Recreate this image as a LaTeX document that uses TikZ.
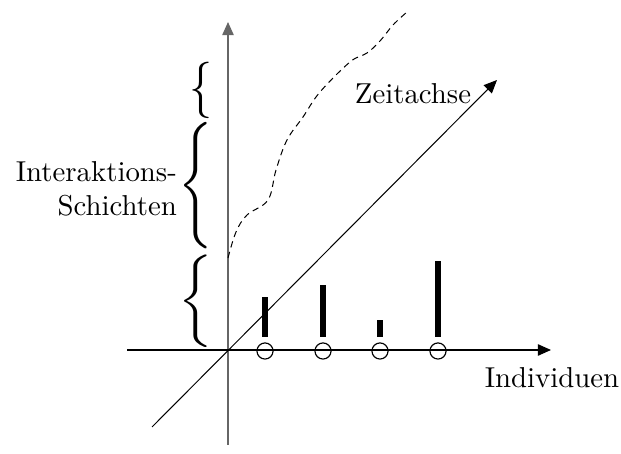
\documentclass[tikz,border=0pt]{standalone}
\usetikzlibrary{arrows.meta}

\begin{document}
\begin{tikzpicture}[x=0.0122cm, y=-0.0122cm,
    axis/.style={line width=0.45pt, -{Triangle[length=4.6pt,width=4pt]}},
    ind/.style={circle, draw, line width=0.4pt, minimum size=5.6pt, inner sep=0pt},
    bar/.style={line width=1.8pt},
    layer/.style={inner sep=0pt, anchor=east, xscale=1.6}]
    \useasboundingbox (0,0) rectangle (621,454);
    \coordinate (O) at (228,350);
    \coordinate (ybot) at (228,445);
    \coordinate (ytop) at (228,22);
    \coordinate (xleft) at (127,350);
    \coordinate (xright) at (551,350);
    \coordinate (tbot) at (152,427);
    \coordinate (ttop) at (497,80);

    % axes
    \draw[axis, draw=black!60] (ybot) -- (ytop);
    \draw[axis] (xleft) -- (xright);
    \draw[axis, line width=0.35pt] (tbot) -- (ttop);

    % individuals with their bars
    \foreach \n/\x/\h in {1/265/297, 2/323/285, 3/380/320, 4/438/261}{
        \node[ind] (i\n) at (\x,351) {};
        \draw[bar] (\x,337) -- (\x,\h);
    }

    % layers
    \node[layer, yscale=1.34] (l1) at (219,301) {$\left\{\vcenter{\hbox{\rule{0pt}{21pt}}}\right.$};
    \node[layer, yscale=1.83] (l2) at (219,186) {$\left\{\vcenter{\hbox{\rule{0pt}{25pt}}}\right.$};
    \node[layer, yscale=1.96] (l3) at (219,90) {$\left\{\vcenter{\hbox{\rule{0pt}{11pt}}}\right.$};

    % time course
    \draw[dash pattern=on 2.2pt off 1.6pt, line width=0.35pt] plot[smooth, tension=0.6] coordinates {
        (228,258) (236,232) (247,215) (268,200) (276,170) (287,140)
        (303,117) (320,92) (350,62) (367,53) (380,41) (393,25) (407,12)};

    \node (zeit) at (413,94) {Zeitachse};
    \node (indiv) at (552,378) {Individuen};
    \node[align=right, anchor=east] (inter) at (187,189) {Interaktions-\\Schichten};
\end{tikzpicture}
\end{document}
